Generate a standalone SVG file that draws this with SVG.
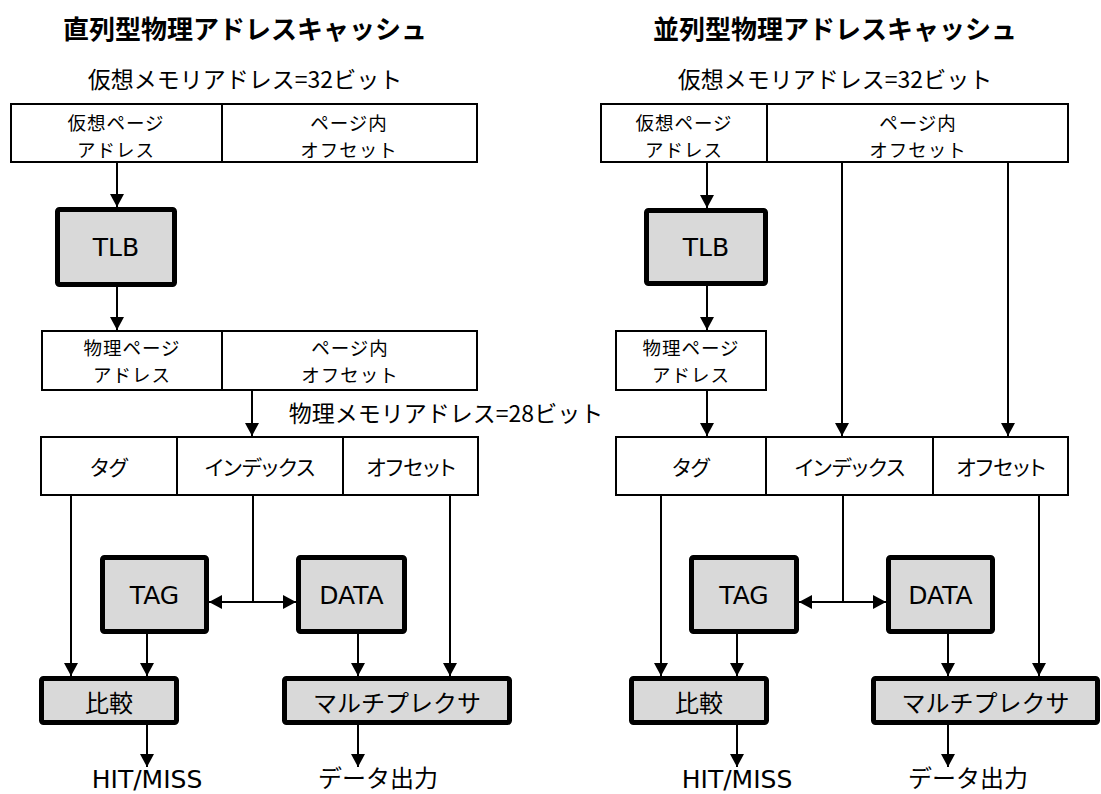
<svg xmlns="http://www.w3.org/2000/svg" width="1101" height="794" viewBox="0 0 1101 794">
<style>
.bg{fill:#ffffff}
.thin{fill:#ffffff;stroke:#000;stroke-width:2}
.thick{fill:#d9d9d9;stroke:#000;stroke-width:5}
.div{stroke:#000;stroke-width:2}
.ln{stroke:#000;stroke-width:2;fill:none}
.ar{stroke:#000;stroke-width:2;fill:none;marker-end:url(#ah)}
.dar{stroke:#000;stroke-width:2;fill:none;marker-end:url(#ah);marker-start:url(#ah)}
.jp{font-family:"Noto Sans CJK JP","Noto Sans",sans-serif;fill:#000;text-anchor:middle;dominant-baseline:central}
.title{font-size:26px;font-weight:bold}
.addr{font-size:23px}
.lbl{font-size:21px;font-feature-settings:"palt"}
.two{font-size:18.5px;letter-spacing:1px}
.big{font-size:24px}
.en{font-family:"DejaVu Sans",Verdana,sans-serif;fill:#000;text-anchor:middle;dominant-baseline:central;font-size:25px}
.bot{dominant-baseline:alphabetic}
</style>
<defs>
<marker id="ah" viewBox="0 0 13 14" refX="13" refY="7" markerWidth="13" markerHeight="14" markerUnits="userSpaceOnUse" orient="auto-start-reverse">
<path d="M0,0 L13,7 L0,14 z" fill="#000"/>
</marker>
</defs>
<rect class="bg" x="0" y="0" width="1101" height="794"/>

<g id="connectors">
<!-- left -->
<line class="ar" x1="117" y1="163" x2="117" y2="207"/>
<line class="ar" x1="117" y1="287" x2="117" y2="330"/>
<line class="ar" x1="252" y1="391" x2="252" y2="436"/>
<line class="ar" x1="71" y1="496" x2="71" y2="676"/>
<line class="ln" x1="253" y1="496" x2="253" y2="602"/>
<line class="dar" x1="209" y1="602" x2="296" y2="602"/>
<line class="ar" x1="147" y1="634" x2="147" y2="676"/>
<line class="ar" x1="358" y1="634" x2="358" y2="676"/>
<line class="ar" x1="450" y1="496" x2="450" y2="676"/>
<line class="ar" x1="147" y1="725" x2="147" y2="767"/>
<line class="ar" x1="358" y1="725" x2="358" y2="767"/>
<!-- right -->
<line class="ar" x1="707" y1="163" x2="707" y2="208"/>
<line class="ar" x1="707" y1="286" x2="707" y2="330"/>
<line class="ar" x1="707" y1="391" x2="707" y2="436"/>
<line class="ar" x1="842" y1="163" x2="842" y2="436"/>
<line class="ar" x1="1008" y1="163" x2="1008" y2="436"/>
<line class="ar" x1="661" y1="496" x2="661" y2="676"/>
<line class="ln" x1="843" y1="496" x2="843" y2="602"/>
<line class="dar" x1="799" y1="602" x2="886" y2="602"/>
<line class="ar" x1="737" y1="634" x2="737" y2="676"/>
<line class="ar" x1="948" y1="634" x2="948" y2="676"/>
<line class="ar" x1="1039" y1="496" x2="1039" y2="676"/>
<line class="ar" x1="737" y1="725" x2="737" y2="767"/>
<line class="ar" x1="948" y1="725" x2="948" y2="767"/>
</g>

<!-- LEFT: serial -->
<g id="title-left"><text class="jp title" x="245" y="27">直列型物理アドレスキャッシュ</text></g>
<g id="vaddr-label-left"><text class="jp addr" x="245" y="78">仮想メモリアドレス=32ビット</text></g>
<g id="vaddr-left">
<rect class="thin" x="11" y="104" width="466" height="58"/>
<line class="div" x1="222" y1="104" x2="222" y2="162"/>
<text class="jp two" x="116" y="122">仮想ページ</text>
<text class="jp two" x="116" y="149">アドレス</text>
<text class="jp two" x="349" y="122">ページ内</text>
<text class="jp two" x="349" y="149">オフセット</text>
</g>
<g id="tlb-left">
<rect class="thick" x="57.5" y="209.5" width="117" height="75" rx="2"/>
<text class="en" x="116" y="247">TLB</text>
</g>
<g id="paddr-left">
<rect class="thin" x="42" y="331" width="435" height="59"/>
<line class="div" x1="222" y1="331" x2="222" y2="390"/>
<text class="jp two" x="132" y="347">物理ページ</text>
<text class="jp two" x="132" y="374">アドレス</text>
<text class="jp two" x="350" y="347">ページ内</text>
<text class="jp two" x="350" y="374">オフセット</text>
</g>
<g id="paddr-label-left"><text class="jp addr" x="446" y="412">物理メモリアドレス=28ビット</text></g>
<g id="cache-addr-left">
<rect class="thin" x="41" y="437" width="437" height="58"/>
<line class="div" x1="177" y1="437" x2="177" y2="495"/>
<line class="div" x1="343" y1="437" x2="343" y2="495"/>
<text class="jp lbl" x="109" y="466">タグ</text>
<text class="jp lbl" x="260" y="466">インデックス</text>
<text class="jp lbl" x="411" y="466">オフセット</text>
</g>
<g id="tag-left">
<rect class="thick" x="102.5" y="557.5" width="104" height="74" rx="2"/>
<text class="en" x="154.5" y="595">TAG</text>
</g>
<g id="data-left">
<rect class="thick" x="298.5" y="557.5" width="106" height="74" rx="2"/>
<text class="en" x="351.5" y="595">DATA</text>
</g>
<g id="cmp-left">
<rect class="thick" x="41.5" y="678.5" width="135" height="44" rx="2"/>
<text class="jp big" x="109" y="701">比較</text>
</g>
<g id="mux-left">
<rect class="thick" x="284.5" y="678.5" width="225" height="44" rx="2"/>
<text class="jp big" x="397" y="701">マルチプレクサ</text>
</g>
<g id="hit-left"><text class="en bot" x="147" y="788">HIT/MISS</text></g>
<g id="out-left"><text class="jp big bot" x="378" y="787">データ出力</text></g>

<!-- RIGHT: parallel -->
<g id="title-right"><text class="jp title" x="835" y="27">並列型物理アドレスキャッシュ</text></g>
<g id="vaddr-label-right"><text class="jp addr" x="835" y="78">仮想メモリアドレス=32ビット</text></g>
<g id="vaddr-right">
<rect class="thin" x="601" y="104" width="467" height="58"/>
<line class="div" x1="767" y1="104" x2="767" y2="162"/>
<text class="jp two" x="684" y="122">仮想ページ</text>
<text class="jp two" x="684" y="149">アドレス</text>
<text class="jp two" x="918" y="122">ページ内</text>
<text class="jp two" x="918" y="149">オフセット</text>
</g>
<g id="tlb-right">
<rect class="thick" x="646.5" y="210.5" width="119" height="73" rx="2"/>
<text class="en" x="706" y="247">TLB</text>
</g>
<g id="paddr-right">
<rect class="thin" x="616" y="331" width="150" height="59"/>
<text class="jp two" x="691" y="347">物理ページ</text>
<text class="jp two" x="691" y="374">アドレス</text>
</g>
<g id="cache-addr-right">
<rect class="thin" x="616" y="437" width="452" height="58"/>
<line class="div" x1="766" y1="437" x2="766" y2="495"/>
<line class="div" x1="933" y1="437" x2="933" y2="495"/>
<text class="jp lbl" x="691" y="466">タグ</text>
<text class="jp lbl" x="850" y="466">インデックス</text>
<text class="jp lbl" x="1001" y="466">オフセット</text>
</g>
<g id="tag-right">
<rect class="thick" x="691.5" y="557.5" width="105" height="74" rx="2"/>
<text class="en" x="744" y="595">TAG</text>
</g>
<g id="data-right">
<rect class="thick" x="888.5" y="557.5" width="104" height="74" rx="2"/>
<text class="en" x="940.5" y="595">DATA</text>
</g>
<g id="cmp-right">
<rect class="thick" x="631.5" y="678.5" width="135" height="44" rx="2"/>
<text class="jp big" x="699" y="701">比較</text>
</g>
<g id="mux-right">
<rect class="thick" x="873.5" y="678.5" width="224" height="44" rx="2"/>
<text class="jp big" x="985.5" y="701">マルチプレクサ</text>
</g>
<g id="hit-right"><text class="en bot" x="737" y="788">HIT/MISS</text></g>
<g id="out-right"><text class="jp big bot" x="968" y="787">データ出力</text></g>
</svg>
